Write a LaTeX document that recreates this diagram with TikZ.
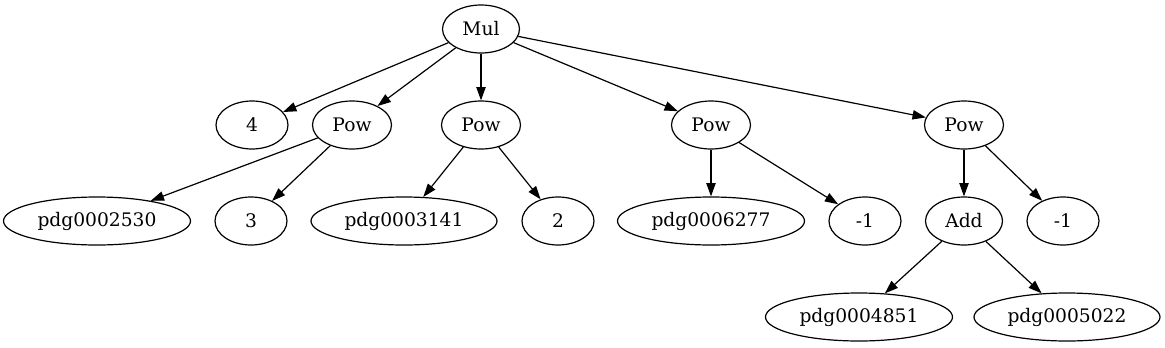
\documentclass[tikz,border=0pt]{standalone}
\usepackage{fontspec}
\setmainfont{DejaVu Serif}
\usetikzlibrary{shapes.geometric,arrows.meta}
\tikzset{
  ell/.style={ellipse, draw, line width=0.9pt, inner sep=0pt, minimum height=36pt, minimum width=#1*0.75pt,
    font=\fontsize{14pt}{16pt}\selectfont},
  ell/.default=72,
  edge/.style={draw, line width=0.9pt, -{Triangle[length=10pt,width=7pt]}}
}
\begin{document}
\begin{tikzpicture}[x=0.75pt,y=-0.75pt]
\useasboundingbox (0,0) rectangle (1165,347);
% row 0
\node[ell=77] (mul) at (481,29) {Mul};
% row 1
\node[ell] (c4) at (252,125) {4};
\node[ell=79] (pow1) at (352,125) {Pow};
\node[ell=79] (pow2) at (481,125) {Pow};
\node[ell=79] (pow3) at (711,125) {Pow};
\node[ell=79] (pow4) at (964,125) {Pow};
% row 2
\node[ell=187] (p2530) at (97,221) {pdg0002530};
\node[ell] (c3) at (251,221) {3};
\node[ell=186] (p3141) at (404,221) {pdg0003141};
\node[ell] (c2) at (558,221) {2};
\node[ell=187] (p6277) at (711,221) {pdg0006277};
\node[ell] (m1a) at (865,221) {-1};
\node[ell=77] (add) at (964,221) {Add};
\node[ell] (m1b) at (1063,221) {-1};
% row 3
\node[ell=187] (p4851) at (859,317) {pdg0004851};
\node[ell=186] (p5022) at (1067,317) {pdg0005022};
% edges
\draw[edge] (mul) -- (c4);
\draw[edge] (mul) -- (pow1);
\draw[edge] (mul) -- (pow2);
\draw[edge] (mul) -- (pow3);
\draw[edge] (mul) -- (pow4);
\draw[edge] (pow1) -- (p2530);
\draw[edge] (pow1) -- (c3);
\draw[edge] (pow2) -- (p3141);
\draw[edge] (pow2) -- (c2);
\draw[edge] (pow3) -- (p6277);
\draw[edge] (pow3) -- (m1a);
\draw[edge] (pow4) -- (add);
\draw[edge] (pow4) -- (m1b);
\draw[edge] (add) -- (p4851);
\draw[edge] (add) -- (p5022);
\end{tikzpicture}
\end{document}
